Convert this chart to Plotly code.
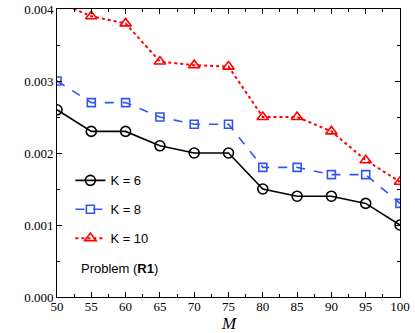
import plotly.graph_objects as go

M = [50, 55, 60, 65, 70, 75, 80, 85, 90, 95, 100]
k6 = [0.0026, 0.0023, 0.0023, 0.0021, 0.0020, 0.0020, 0.0015, 0.0014, 0.0014, 0.0013, 0.0010]
k8 = [0.0030, 0.0027, 0.0027, 0.0025, 0.0024, 0.0024, 0.0018, 0.0018, 0.0017, 0.0017, 0.0013]
k10 = [0.0041, 0.0039, 0.0038, 0.00327, 0.00322, 0.0032, 0.0025, 0.0025, 0.0023, 0.0019, 0.0016]
names = ["K = 6", "K = 8", "K = 10"]
x_ticks = [50, 55, 60, 65, 70, 75, 80, 85, 90, 95, 100]
y_ticks = [0.0, 0.001, 0.002, 0.003, 0.004]

fig = go.Figure()
fig.add_trace(go.Scatter(x=M, y=k6, name=names[0], mode="lines+markers", legendgroup="a",
                         line=dict(color="black", width=1.6),
                         marker=dict(symbol="circle-open", size=10, color="black", line=dict(width=1.6))))
fig.add_trace(go.Scatter(x=M, y=k8, name=names[1], mode="lines+markers", legendgroup="b",
                         line=dict(color="#3355ee", width=1.6, dash="dash"),
                         marker=dict(symbol="square-open", size=8, color="#3355ee", line=dict(width=1.6))))
fig.add_trace(go.Scatter(x=M, y=k10, name=names[2], mode="lines+markers", legendgroup="c",
                         line=dict(color="red", width=2, dash="dot"),
                         marker=dict(symbol="triangle-up-open", size=10, color="red", line=dict(width=1.6))))

axis_common = dict(showline=True, linecolor="black", linewidth=1, mirror="ticks", ticks="inside",
                   ticklen=5, tickcolor="black", showgrid=False, zeroline=False, automargin=False,
                   tickfont=dict(family="Liberation Serif", size=13, color="black"))
fig.update_xaxes(range=[50, 100], tickvals=x_ticks, ticktext=[str(v) for v in x_ticks],
                 ticklabelstandoff=-3,
                 minor=dict(ticks="inside", ticklen=3, dtick=2.5, tickcolor="black", showgrid=False),
                 **axis_common)
fig.update_yaxes(range=[0, 0.004], tickvals=y_ticks, tickformat=".3f",
                 minor=dict(ticks="inside", ticklen=3, dtick=0.0005, tickcolor="black", showgrid=False),
                 **axis_common)

fig.add_annotation(x=0.5, y=-0.092, xref="paper", yref="paper", xanchor="center", yanchor="middle",
                   text="<i>M</i>", showarrow=False,
                   font=dict(family="Liberation Serif", size=17, color="black"))
fig.add_annotation(x=0.065, y=0.10, xref="paper", yref="paper", xanchor="left", yanchor="middle",
                   text="Problem (<b>R1</b>)", showarrow=False,
                   font=dict(family="Liberation Sans", size=13, color="black"))

fig.update_layout(width=415, height=333, margin=dict(l=57, r=15, t=9, b=36),
                  plot_bgcolor="white", paper_bgcolor="white",
                  legend=dict(x=0.039, y=0.457, xanchor="left", yanchor="top", bgcolor="rgba(0,0,0,0)",
                              font=dict(family="Liberation Sans", size=13, color="black"),
                              tracegroupgap=9, itemwidth=30))
fig.write_html("out.html", config={"displayModeBar": False},
               post_script="document.body.style.margin='0';document.body.style.overflow='hidden';")
